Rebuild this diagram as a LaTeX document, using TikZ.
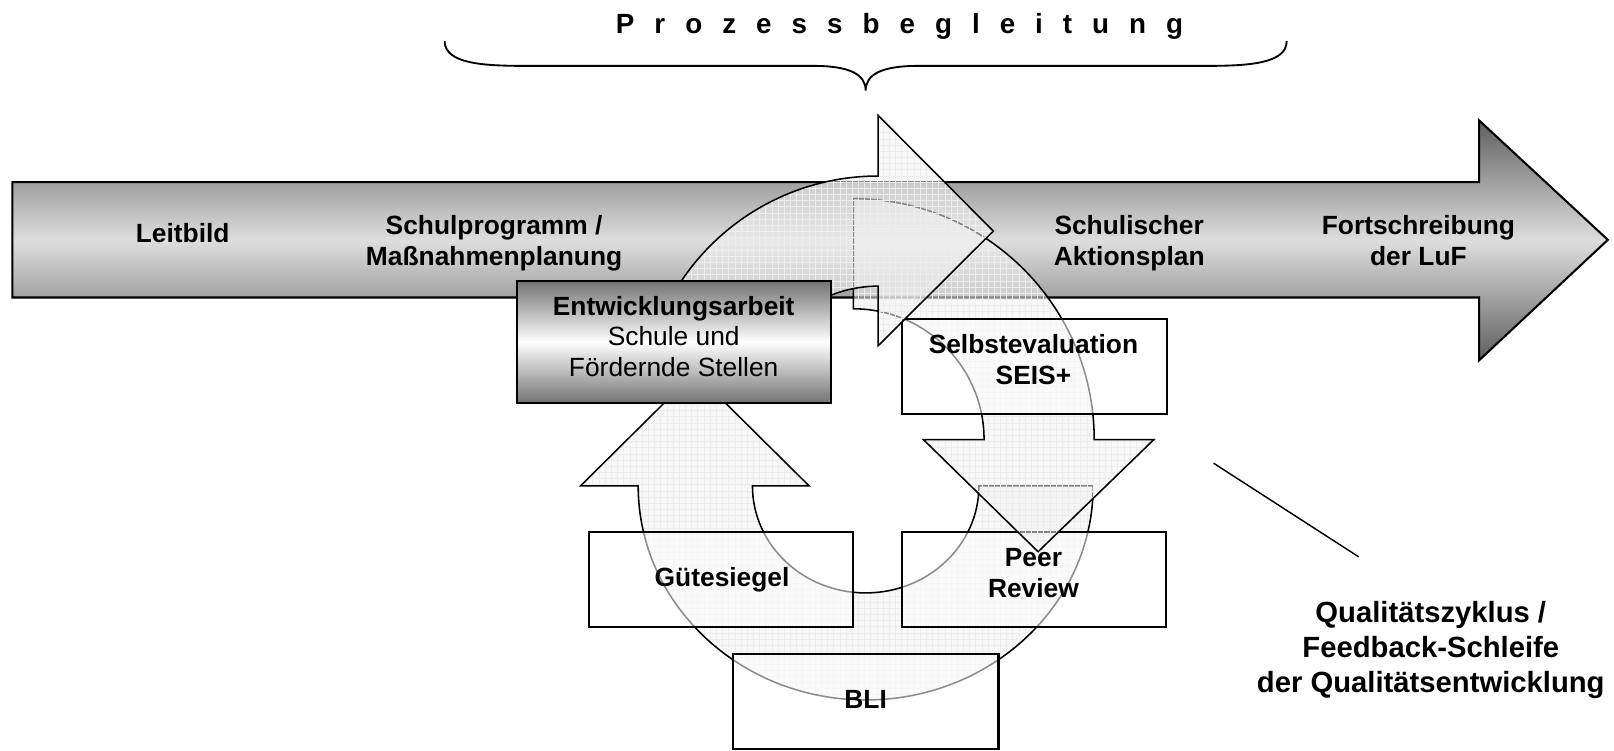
\documentclass[tikz,border=0pt]{standalone}
\usepackage{fontspec}
\setmainfont{Liberation Sans}
\newfontfamily\spacedsans[LetterSpace=72]{Liberation Sans}
\usetikzlibrary{patterns,calc}

\definecolor{arrdark}{gray}{0.37}
\definecolor{arrlight}{gray}{0.87}
\definecolor{boxdark}{gray}{0.45}

\tikzset{
  mainarrow/.style={draw=black, line width=1pt, line join=miter,
    top color=arrdark, bottom color=arrdark, middle color=arrlight},
  ring/.style={draw=black, line width=0.75pt, line join=miter,
    preaction={fill=black!5, fill opacity=0.55},
    pattern=grid, pattern color=black!7, fill opacity=0.4},
  stagebox/.style={draw=black, line width=1pt, fill=white, fill opacity=0.55,
    inner sep=0pt, minimum height=46pt},
  workbox/.style={draw=black, line width=1pt, top color=boxdark,
    bottom color=boxdark, middle color=white, inner sep=0pt,
    minimum width=152.5pt, minimum height=59.25pt},
  lbl/.style={font=\fontsize{12.8}{15}\selectfont\bfseries, align=center, inner sep=0pt},
  sidelbl/.style={font=\fontsize{14.2}{17}\selectfont\bfseries, align=center, inner sep=0pt},
  titlelbl/.style={font=\spacedsans\fontsize{13.5}{16}\selectfont\bfseries, inner sep=0pt},
  thinline/.style={draw=black, line width=0.7pt},
  bracestyle/.style={draw=black, line width=0.9pt},
}

\begin{document}
\begin{tikzpicture}[x=0.5pt, y=-0.5pt]
\useasboundingbox (0,0) rectangle (1568,729);

% centres of the three cycle segments
\coordinate (c1) at (853,401);
\coordinate (c2) at (829,427);
\coordinate (c3) at (841,472);

% long process arrow
\draw[mainarrow] (12,177) -- (1437,177) -- (1437,117) -- (1562,233)
  -- (1437,350) -- (1437,289) -- (12,289) -- cycle;

% lower U-turn arrow pointing up to the development work
\draw[ring] (1062,472) arc[start angle=0, end angle=180, x radius=221, y radius=208]
  -- (564,472) -- (675,362) -- (786,472) -- (731,472)
  arc[start angle=180, end angle=0, x radius=110, y radius=104] -- cycle;

% lower stage boxes
\node[stagebox, minimum width=128.5pt] (guete) at (700.5,563) {};
\node[stagebox, minimum width=128.5pt] (peer) at (1004.5,563) {};
\node[stagebox, minimum width=129pt, minimum height=46.25pt] (bli) at (841,681.75) {};

% right quarter arrow pointing down
\draw[ring] (829,193) arc[start angle=-90, end angle=0, radius=234]
  -- (1121,427) -- (1008.5,536) -- (897,427) -- (956,427)
  arc[start angle=0, end angle=-90, radius=127] -- cycle;

\node[stagebox, minimum width=129pt] (selbst) at (1005,356) {};

% upper arrow pointing right
\draw[ring] ($(c1)+(-155:230)$) arc[start angle=-155, end angle=-90, radius=230]
  -- (853,112) -- (965,224.5) -- (853,336) -- (853,278)
  arc[start angle=-90, end angle=-155, radius=123] -- cycle;

% development work box
\node[workbox] (entw) at (654.5,332.25) {};

% labels on the process arrow
\node[lbl, anchor=base] (leitbild) at (177.5,236) {Leitbild};
\node[lbl] (schulprog) at (480,236.3) {Schulprogramm /\\Maßnahmenplanung};
\node[lbl] (aktion) at (1097,236.3) {Schulischer\\Aktionsplan};
\node[lbl] (fortschr) at (1378,233.6) {Fortschreibung\\der LuF};

% labels of the cycle
\node[lbl, font=\fontsize{12.8}{15}\selectfont] (entwtxt) at (654.5,326.9)
  {{\bfseries Entwicklungsarbeit}\\Schule und\\Fördernde Stellen};
\node[lbl] (selbsttxt) at (1004,349.4) {Selbstevaluation\\SEIS+};
\node[lbl] (peertxt) at (1004,556.9) {Peer\\Review};
\node[lbl, anchor=base] (guetetxt) at (701.5,569.5) {Gütesiegel};
\node[lbl, anchor=base] (blitxt) at (841,688) {BLI};

% side note with leader line
\node[sidelbl] (zyklus) at (1390,631)
  {Qualitätszyklus /\\Feedback-Schleife\\der Qualitätsentwicklung};
\coordinate (leadA) at (1179,450);
\coordinate (leadB) at (1320,541);
\draw[thinline] (leadA) -- (leadB);

% heading with brace
\node[titlelbl, anchor=base west] (title) at (598,32.4) {Prozessbegleitung};
\coordinate (braceL) at (432,40);
\coordinate (braceTip) at (841,88);
\coordinate (braceR) at (1250,40);
\draw[bracestyle] (braceL) .. controls (432,62) and (470,64) .. (510,64)
  -- (790,64) .. controls (825,64) and (841,72) .. (braceTip)
  .. controls (841,72) and (857,64) .. (892,64)
  -- (1172,64) .. controls (1212,64) and (1250,62) .. (braceR);
\end{tikzpicture}
\end{document}
